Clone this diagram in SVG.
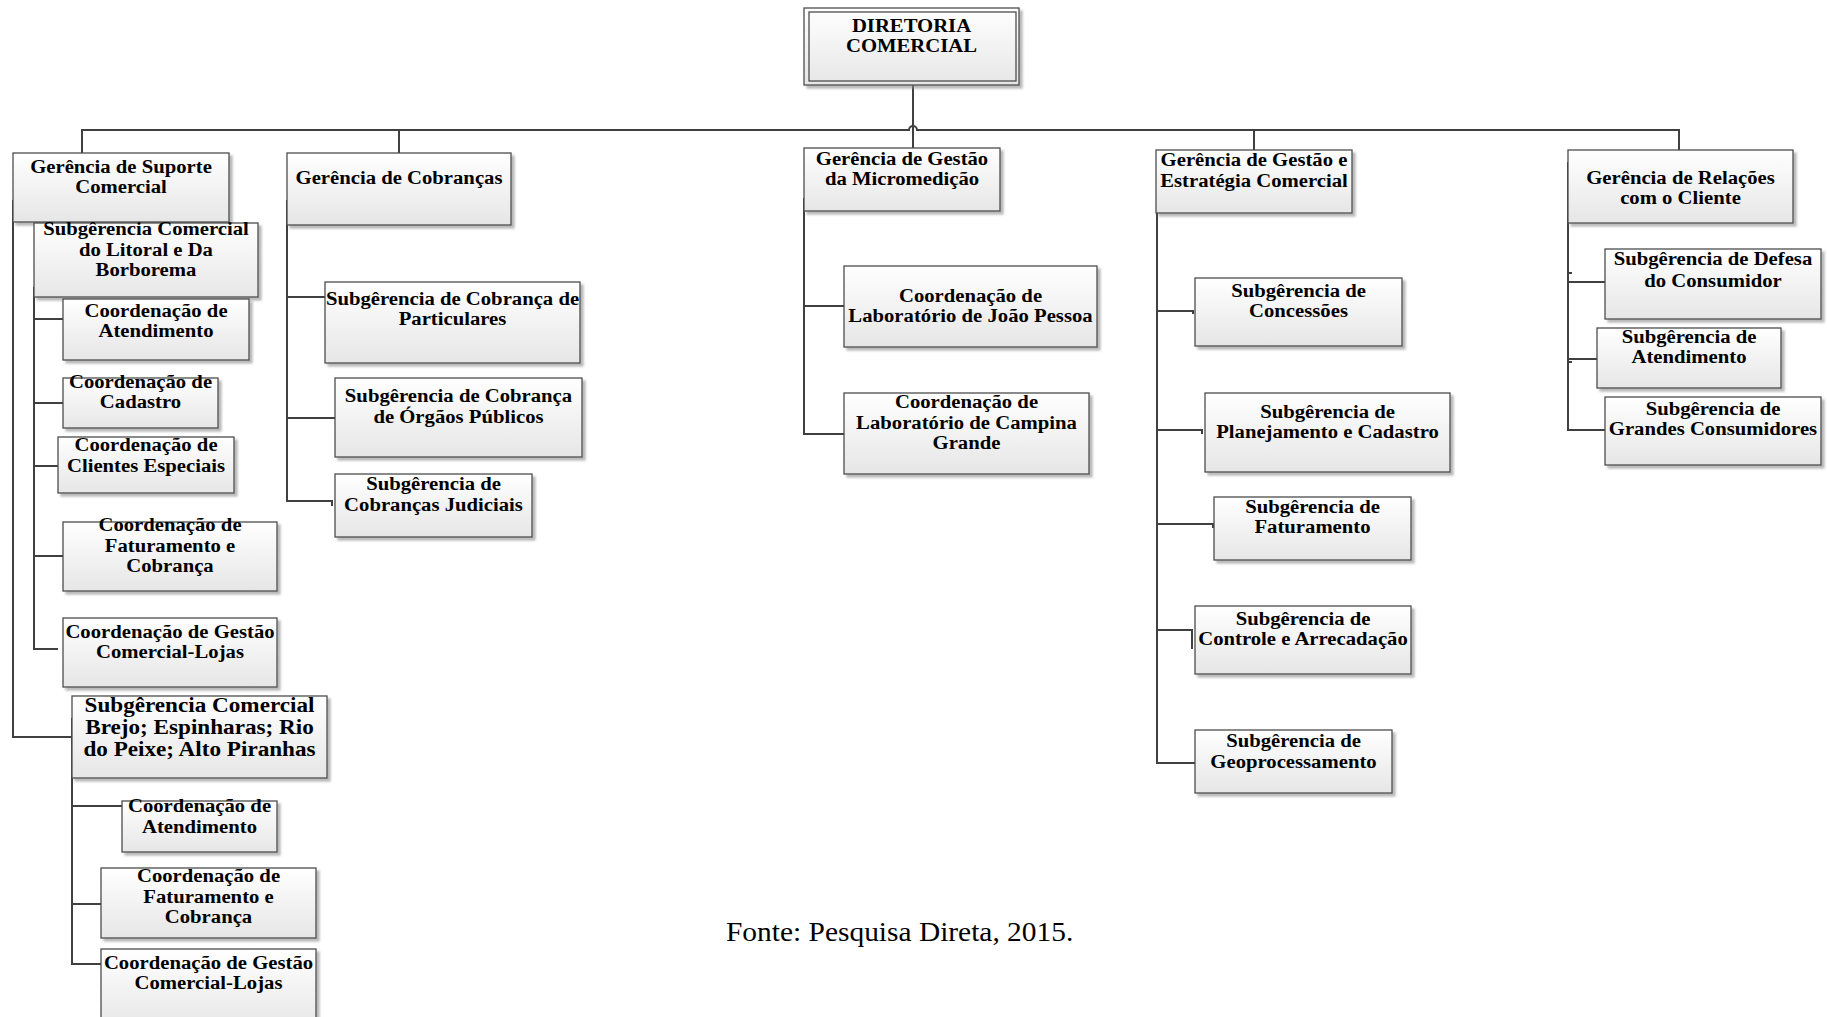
<svg xmlns="http://www.w3.org/2000/svg" width="1827" height="1017" viewBox="0 0 1827 1017">
<style>
.b{fill:url(#g);stroke:#4d4d4d;stroke-width:1.3;filter:url(#sh)}
.bi{fill:none;stroke:#4d4d4d;stroke-width:1.3}
.t{font-family:"Liberation Serif","Times New Roman",serif;font-weight:bold;font-size:19px;text-anchor:middle;fill:#000}
.tl{font-size:20.5px}
.c{fill:none;stroke:#404040;stroke-width:2}
.f{font-family:"Liberation Serif","Times New Roman",serif;font-size:27px;fill:#000}
</style>
<defs>
<linearGradient id="g" x1="0" y1="0" x2="0" y2="1">
<stop offset="0" stop-color="#ffffff"/>
<stop offset="1" stop-color="#e6e6e6"/>
</linearGradient>
<filter id="sh" x="-5%" y="-5%" width="115%" height="120%">
<feDropShadow dx="3" dy="3" stdDeviation="1" flood-color="#8a8a8a" flood-opacity="0.6"/>
</filter>
</defs>

<g id="connectors">
<path class="c" d="M82,153 V130 H909 A4,4 0 0 1 917,130 H1679 V150"/>
<path class="c" d="M913,73 V148"/>
<path class="c" d="M399,130 V153"/>
<path class="c" d="M1254,130 V150"/>
<path class="c" d="M13,200 V737 H72"/>
<path class="c" d="M34,287 V649 H58"/>
<path class="c" d="M34,319 H63 M34,403 H63 M34,466 H58 M34,556 H63"/>
<path class="c" d="M72,718 V964 H101"/>
<path class="c" d="M72,806 H122 M72,904 H104"/>
<path class="c" d="M287,200 V501 H332 V506"/>
<path class="c" d="M287,297 H325 M287,418 H335"/>
<path class="c" d="M804,198 V434 H844"/>
<path class="c" d="M804,306 H844"/>
<path class="c" d="M1157,200 V763 H1195"/>
<path class="c" d="M1157,311 H1193 V314 M1157,430 H1202 V434 M1157,524 H1213 V528 M1157,630 H1192 V649"/>
<path class="c" d="M1568,162 V430 H1605"/>
<path class="c" d="M1568,282 H1605 M1568,359 H1597 M1568,273 H1572 M1568,362 H1572"/>
</g>

<g id="n-diretoria">
<rect class="b" x="804" y="8" width="215" height="77"/>
<rect class="bi" x="809" y="12" width="207" height="69"/>
<text class="t" transform="translate(911.5,0) scale(1.09,1)"><tspan x="0" y="32">DIRETORIA</tspan><tspan x="0" y="52">COMERCIAL</tspan></text>
</g>

<g id="n-suporte">
<rect class="b" x="13" y="153" width="216" height="69"/>
<text class="t" transform="translate(121,0) scale(1.09,1)"><tspan x="0" y="173">Gerência de Suporte</tspan><tspan x="0" y="193">Comercial</tspan></text>
</g>

<g id="n-litoral">
<rect class="b" x="34" y="223" width="224" height="74"/>
<text class="t" transform="translate(146,0) scale(1.09,1)"><tspan x="0" y="235">Subgêrencia Comercial</tspan><tspan x="0" y="256">do Litoral e Da</tspan><tspan x="0" y="276">Borborema</tspan></text>
</g>

<g id="n-coord-atend1">
<rect class="b" x="63" y="299" width="186" height="61"/>
<text class="t" transform="translate(156,0) scale(1.09,1)"><tspan x="0" y="317">Coordenação de</tspan><tspan x="0" y="337">Atendimento</tspan></text>
</g>

<g id="n-coord-cadastro">
<rect class="b" x="63" y="378" width="155" height="50"/>
<text class="t" transform="translate(140.5,0) scale(1.09,1)"><tspan x="0" y="388">Coordenação de</tspan><tspan x="0" y="408">Cadastro</tspan></text>
</g>

<g id="n-coord-clientes">
<rect class="b" x="58" y="437" width="176" height="56"/>
<text class="t" transform="translate(146,0) scale(1.09,1)"><tspan x="0" y="451">Coordenação de</tspan><tspan x="0" y="472">Clientes Especiais</tspan></text>
</g>

<g id="n-coord-fat1">
<rect class="b" x="63" y="522" width="214" height="69"/>
<text class="t" transform="translate(170,0) scale(1.09,1)"><tspan x="0" y="531">Coordenação de</tspan><tspan x="0" y="552">Faturamento e</tspan><tspan x="0" y="572">Cobrança</tspan></text>
</g>

<g id="n-coord-lojas1">
<rect class="b" x="63" y="618" width="214" height="69"/>
<text class="t" transform="translate(170,0) scale(1.09,1)"><tspan x="0" y="638">Coordenação de Gestão</tspan><tspan x="0" y="658">Comercial-Lojas</tspan></text>
</g>

<g id="n-brejo">
<rect class="b" x="72" y="696" width="255" height="82"/>
<text class="t tl" transform="translate(199.5,0) scale(1.13,1)"><tspan x="0" y="712">Subgêrencia Comercial</tspan><tspan x="0" y="734">Brejo; Espinharas; Rio</tspan><tspan x="0" y="756">do Peixe; Alto Piranhas</tspan></text>
</g>

<g id="n-coord-atend2">
<rect class="b" x="122" y="801" width="155" height="51"/>
<text class="t" transform="translate(199.5,0) scale(1.09,1)"><tspan x="0" y="812">Coordenação de</tspan><tspan x="0" y="833">Atendimento</tspan></text>
</g>

<g id="n-coord-fat2">
<rect class="b" x="101" y="868" width="215" height="70"/>
<text class="t" transform="translate(208.5,0) scale(1.09,1)"><tspan x="0" y="882">Coordenação de</tspan><tspan x="0" y="903">Faturamento e</tspan><tspan x="0" y="923">Cobrança</tspan></text>
</g>

<g id="n-coord-lojas2">
<rect class="b" x="101" y="949" width="215" height="80"/>
<text class="t" transform="translate(208.5,0) scale(1.09,1)"><tspan x="0" y="969">Coordenação de Gestão</tspan><tspan x="0" y="989">Comercial-Lojas</tspan></text>
</g>

<g id="n-cobrancas">
<rect class="b" x="287" y="153" width="224" height="72"/>
<text class="t" transform="translate(399,0) scale(1.09,1)"><tspan x="0" y="184">Gerência de Cobranças</tspan></text>
</g>

<g id="n-particulares">
<rect class="b" x="325" y="282" width="255" height="81"/>
<text class="t" transform="translate(452.5,0) scale(1.09,1)"><tspan x="0" y="305">Subgêrencia de Cobrança de</tspan><tspan x="0" y="325">Particulares</tspan></text>
</g>

<g id="n-orgaos">
<rect class="b" x="335" y="378" width="247" height="79"/>
<text class="t" transform="translate(458.5,0) scale(1.09,1)"><tspan x="0" y="402">Subgêrencia de Cobrança</tspan><tspan x="0" y="423">de Órgãos Públicos</tspan></text>
</g>

<g id="n-judiciais">
<rect class="b" x="335" y="474" width="197" height="63"/>
<text class="t" transform="translate(433.5,0) scale(1.09,1)"><tspan x="0" y="490">Subgêrencia de</tspan><tspan x="0" y="511">Cobranças Judiciais</tspan></text>
</g>

<g id="n-micromedicao">
<rect class="b" x="804" y="148" width="196" height="63"/>
<text class="t" transform="translate(902,0) scale(1.09,1)"><tspan x="0" y="165">Gerência de Gestão</tspan><tspan x="0" y="185">da Micromedição</tspan></text>
</g>

<g id="n-lab-jp">
<rect class="b" x="844" y="266" width="253" height="81"/>
<text class="t" transform="translate(970.5,0) scale(1.09,1)"><tspan x="0" y="302">Coordenação de</tspan><tspan x="0" y="322">Laboratório de João Pessoa</tspan></text>
</g>

<g id="n-lab-cg">
<rect class="b" x="844" y="393" width="245" height="81"/>
<text class="t" transform="translate(966.5,0) scale(1.09,1)"><tspan x="0" y="408">Coordenação de</tspan><tspan x="0" y="429">Laboratório de Campina</tspan><tspan x="0" y="449">Grande</tspan></text>
</g>

<g id="n-estrategia">
<rect class="b" x="1156" y="150" width="196" height="63"/>
<text class="t" transform="translate(1254,0) scale(1.09,1)"><tspan x="0" y="166">Gerência de Gestão e</tspan><tspan x="0" y="187">Estratégia Comercial</tspan></text>
</g>

<g id="n-concessoes">
<rect class="b" x="1195" y="278" width="207" height="68"/>
<text class="t" transform="translate(1298.5,0) scale(1.09,1)"><tspan x="0" y="297">Subgêrencia de</tspan><tspan x="0" y="317">Concessões</tspan></text>
</g>

<g id="n-planejamento">
<rect class="b" x="1205" y="393" width="245" height="79"/>
<text class="t" transform="translate(1327.5,0) scale(1.09,1)"><tspan x="0" y="418">Subgêrencia de</tspan><tspan x="0" y="438">Planejamento e Cadastro</tspan></text>
</g>

<g id="n-faturamento">
<rect class="b" x="1214" y="497" width="197" height="63"/>
<text class="t" transform="translate(1312.5,0) scale(1.09,1)"><tspan x="0" y="513">Subgêrencia de</tspan><tspan x="0" y="533">Faturamento</tspan></text>
</g>

<g id="n-controle">
<rect class="b" x="1195" y="606" width="216" height="68"/>
<text class="t" transform="translate(1303,0) scale(1.09,1)"><tspan x="0" y="625">Subgêrencia de</tspan><tspan x="0" y="645">Controle e Arrecadação</tspan></text>
</g>

<g id="n-geo">
<rect class="b" x="1195" y="730" width="197" height="63"/>
<text class="t" transform="translate(1293.5,0) scale(1.09,1)"><tspan x="0" y="747">Subgêrencia de</tspan><tspan x="0" y="768">Geoprocessamento</tspan></text>
</g>

<g id="n-relacoes">
<rect class="b" x="1568" y="150" width="225" height="73"/>
<text class="t" transform="translate(1680.5,0) scale(1.09,1)"><tspan x="0" y="184">Gerência de Relações</tspan><tspan x="0" y="204">com o Cliente</tspan></text>
</g>

<g id="n-defesa">
<rect class="b" x="1605" y="249" width="216" height="70"/>
<text class="t" transform="translate(1713,0) scale(1.09,1)"><tspan x="0" y="265">Subgêrencia de Defesa</tspan><tspan x="0" y="287">do Consumidor</tspan></text>
</g>

<g id="n-atendimento-rc">
<rect class="b" x="1597" y="328" width="184" height="60"/>
<text class="t" transform="translate(1689,0) scale(1.09,1)"><tspan x="0" y="343">Subgêrencia de</tspan><tspan x="0" y="363">Atendimento</tspan></text>
</g>

<g id="n-grandes">
<rect class="b" x="1605" y="397" width="216" height="68"/>
<text class="t" transform="translate(1713,0) scale(1.09,1)"><tspan x="0" y="415">Subgêrencia de</tspan><tspan x="0" y="435">Grandes Consumidores</tspan></text>
</g>

<text class="f" transform="translate(726,941) scale(1.09,1)" x="0" y="0">Fonte: Pesquisa Direta, 2015.</text>
</svg>
